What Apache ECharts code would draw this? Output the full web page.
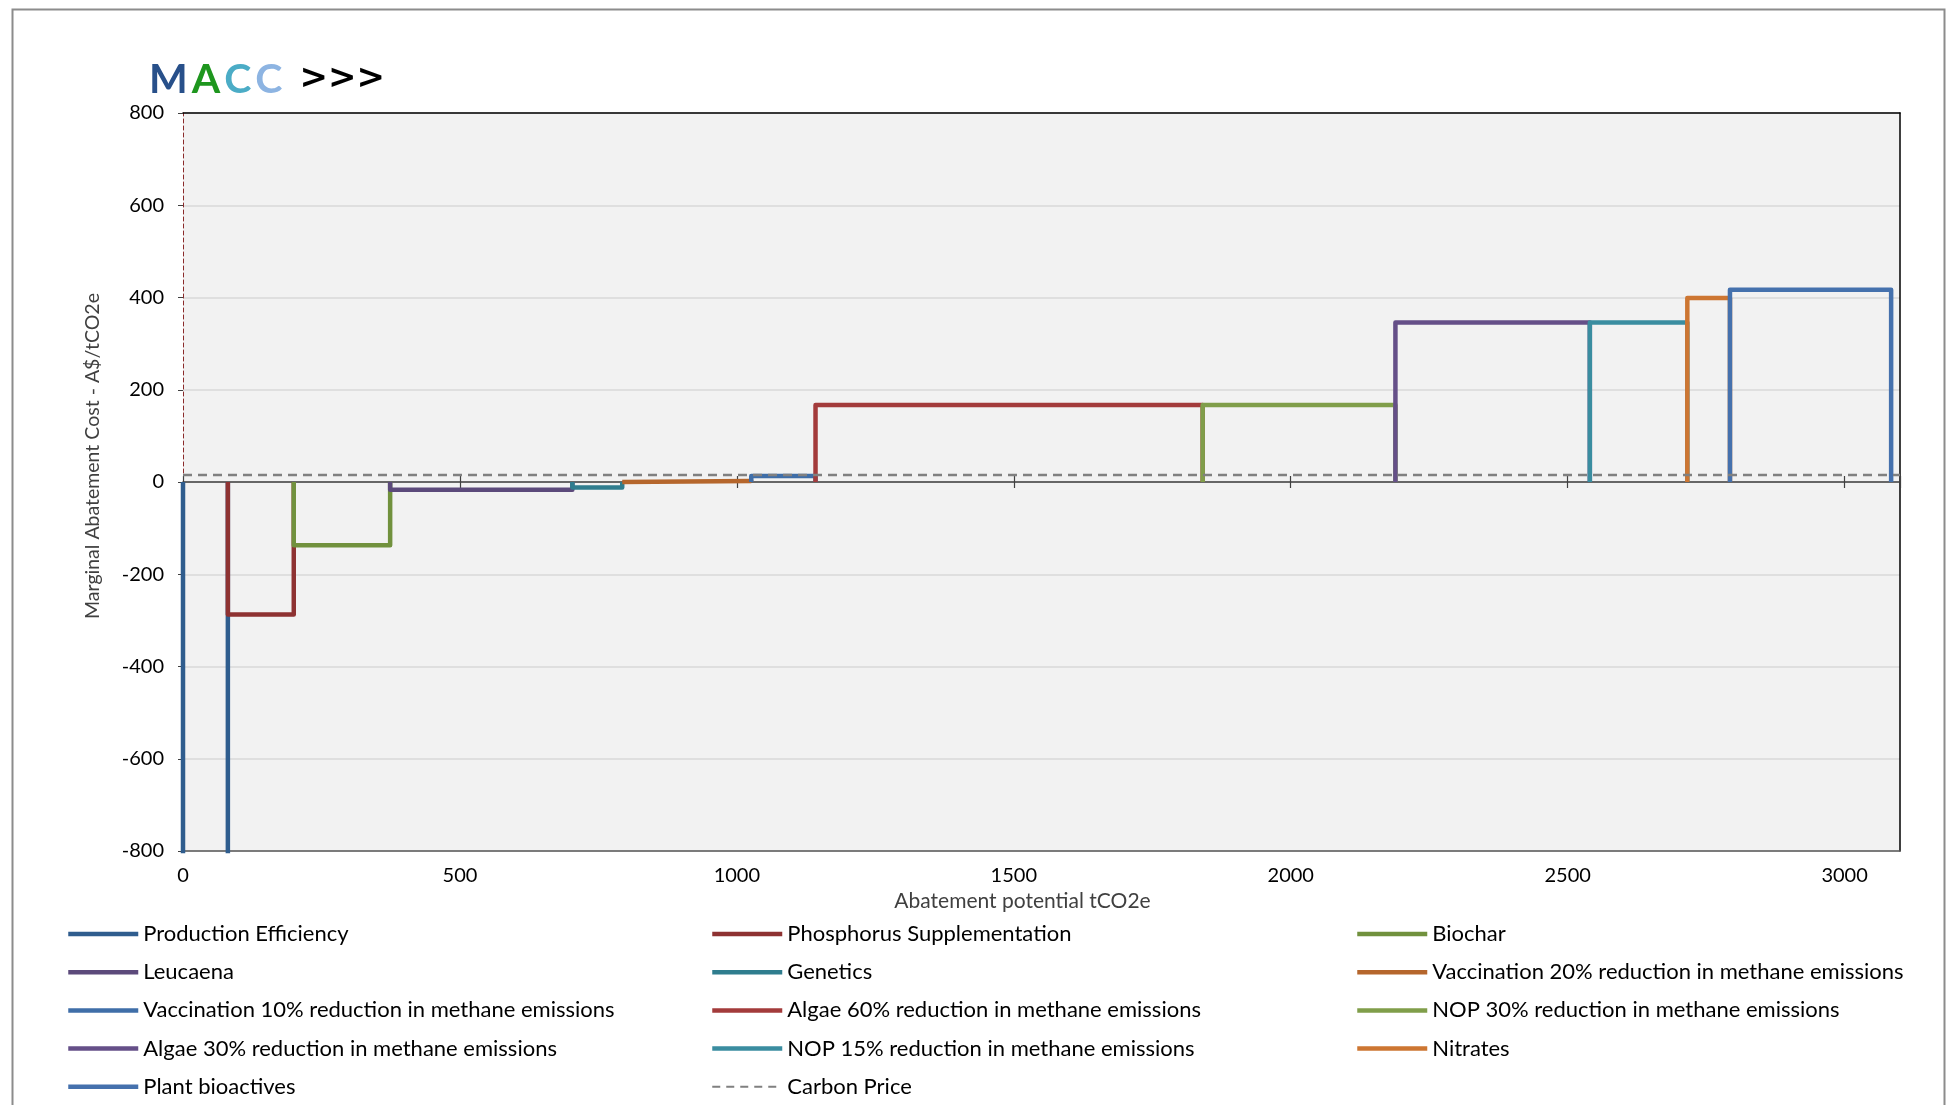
<!DOCTYPE html>
<html>
<head>
<meta charset="utf-8">
<title>MACC</title>
<script src="https://cdn.jsdelivr.net/npm/echarts@6/dist/echarts.min.js"></script>
<style>
  html, body { margin: 0; padding: 0; background: #fff; }
  #macc { width: 1951px; height: 1105px; }
</style>
</head>
<body>
<div id="macc"></div>
<script>
// abatement measures, in the order they sit on the curve
var measures = [
  'Production Efficiency',
  'Phosphorus Supplementation',
  'Biochar',
  'Leucaena',
  'Genetics',
  'Vaccination 20% reduction in methane emissions',
  'Vaccination 10% reduction in methane emissions',
  'Algae 60% reduction in methane emissions',
  'NOP 30% reduction in methane emissions',
  'Algae 30% reduction in methane emissions',
  'NOP 15% reduction in methane emissions',
  'Nitrates',
  'Plant bioactives'
];
// abatement potential of each measure (tCO2e)
var potentials = [81, 119, 174, 329, 90, 233, 116, 699, 348, 351, 176, 77, 291];
// marginal abatement cost (A$/tCO2e)
var costs = [-1000, -287, -137, -17, -12, 2, 13, 167, 167, 346, 346, 399, 417];
var colors = ['#2f5d8e', '#8e3232', '#71913d', '#5c4a7b', '#2f7d8e', '#b5662c', '#3f6ea8',
              '#a33b3b', '#809e4a', '#654f88', '#3a8da0', '#cd7632', '#4571ad'];
var carbonPrice = 15;
var xMin = 0, xMax = 3100, xStep = 500;
var yMin = -800, yMax = 800, yStep = 200;

var font = 'Lato, "DejaVu Sans", sans-serif';

var chart = echarts.init(document.getElementById('macc'));

var series = [];
var start = 0;
for (var i = 0; i < measures.length; i++) {
  var end = start + potentials[i];
  series.push({
    name: measures[i],
    type: 'line',
    symbol: 'none',
    color: colors[i],
    lineStyle: { width: 4.5, color: colors[i], join: 'round' },
    data: [[start, 0], [start, costs[i]], [end, costs[i]], [end, 0]]
  });
  start = end;
}
series.push({
  name: 'Carbon Price',
  type: 'line',
  symbol: 'none',
  color: '#808080',
  lineStyle: { width: 2.5, color: '#808080', type: [9, 6] },
  data: [[xMin, carbonPrice], [xMax, carbonPrice]]
});

function legendItem(name) {
  if (name === 'Carbon Price') {
    return { name: name, lineStyle: { width: 2, type: [8, 6] } };
  }
  return { name: name, lineStyle: { width: 4.5 } };
}

function legendCol(left, names) {
  return {
    orient: 'vertical',
    left: left,
    top: 923,
    height: 200,
    padding: 0,
    itemWidth: 70,
    itemHeight: 20,
    itemGap: 16.2,
    itemStyle: { color: 'rgba(0,0,0,0)', borderColor: 'rgba(0,0,0,0)', borderWidth: 0 },
    data: names.map(legendItem),
    textStyle: { fontFamily: font, fontSize: 22, color: '#000', lineHeight: 20 }
  };
}

var option = {
  backgroundColor: '#fff',
  animation: false,
  title: {
    left: 144,
    top: 54,
    text: '{m|M}{a|A}{c1|C}{c2|C}{g|>>>}',
    textStyle: {
      rich: {
        m: { fontFamily: font, fontSize: 41, color: '#28508a', padding: [0, 4, 0, 0] },
        a: { fontFamily: font, fontSize: 41, color: '#1e961e', padding: [0, 4, 0, 0] },
        c1: { fontFamily: font, fontSize: 41, color: '#4bacc6', padding: [0, 4, 0, 0] },
        c2: { fontFamily: font, fontSize: 41, color: '#8db4e2', padding: [0, 17, 0, 0] },
        g: { fontFamily: '"DejaVu Sans", sans-serif', fontSize: 34, color: '#000' }
      }
    }
  },
  graphic: [{
    type: 'rect',
    left: 10, top: 7,
    shape: { width: 1932, height: 1120 },
    style: { fill: 'none', stroke: '#8c8c8c', lineWidth: 2 },
    silent: true
  }],
  legend: [
    legendCol(66, [measures[0], measures[3], measures[6], measures[9], measures[12]]),
    legendCol(710, [measures[1], measures[4], measures[7], measures[10], 'Carbon Price']),
    legendCol(1355, [measures[2], measures[5], measures[8], measures[11]])
  ],
  grid: {
    left: 183, right: 51, top: 113, bottom: 254,
    show: true, backgroundColor: '#f2f2f2', borderWidth: 0
  },
  xAxis: [
    {
      type: 'value', min: xMin, max: xMax, interval: xStep, position: 'bottom',
      axisLine: { onZero: false, lineStyle: { color: '#595959', width: 1.5 } },
      axisTick: { show: false },
      axisLabel: {
        fontFamily: font, fontSize: 20, color: '#000', margin: 15, showMaxLabel: false,
        formatter: function (v) { return String(v); }
      },
      splitLine: { show: false },
      name: 'Abatement potential tCO2e',
      nameLocation: 'middle',
      nameGap: 39,
      nameTextStyle: { fontFamily: font, fontSize: 21, color: '#404040', padding: [0, 38, 0, 0] }
    },
    {
      type: 'value', min: xMin, max: xMax, interval: xStep, position: 'top',
      axisLine: { onZero: false, lineStyle: { color: '#000', width: 1.5 } },
      axisTick: { show: false }, axisLabel: { show: false }, splitLine: { show: false }
    },
    {
      type: 'value', min: xMin, max: xMax, interval: xStep, position: 'bottom',
      axisLine: { onZero: true, lineStyle: { color: '#404040', width: 1.5 } },
      axisTick: { show: true, length: 6, lineStyle: { color: '#404040', width: 1.2 } },
      axisLabel: { show: false }, splitLine: { show: false }
    },
    {
      type: 'value', min: xMin, max: xMax, interval: xStep, position: 'top',
      axisLine: { onZero: true, show: false },
      axisTick: { show: true, length: 6, lineStyle: { color: '#404040', width: 1.2 } },
      axisLabel: { show: false }, splitLine: { show: false }
    }
  ],
  yAxis: [
    {
      type: 'value', min: yMin, max: yMax, interval: yStep, position: 'left',
      axisLine: { show: true, onZero: false, lineStyle: { color: '#8b2b2b', width: 1, type: [4, 3] } },
      axisTick: { show: true, length: 5, lineStyle: { color: '#404040' } },
      axisLabel: { fontFamily: font, fontSize: 20, color: '#000', margin: 19 },
      splitLine: { lineStyle: { color: '#d9d9d9', width: 1.5 } },
      name: 'Marginal Abatement Cost - A$/tCO2e',
      nameLocation: 'middle',
      nameGap: 80,
      nameTextStyle: { fontFamily: font, fontSize: 19.5, color: '#404040', padding: [0, 0, 0, 52] }
    },
    {
      type: 'value', min: yMin, max: yMax, interval: yStep, position: 'right',
      axisLine: { show: true, onZero: false, lineStyle: { color: '#000', width: 1.5 } },
      axisTick: { show: false }, axisLabel: { show: false }, splitLine: { show: false }
    }
  ],
  series: series
};

chart.setOption(option);
</script>
</body>
</html>
